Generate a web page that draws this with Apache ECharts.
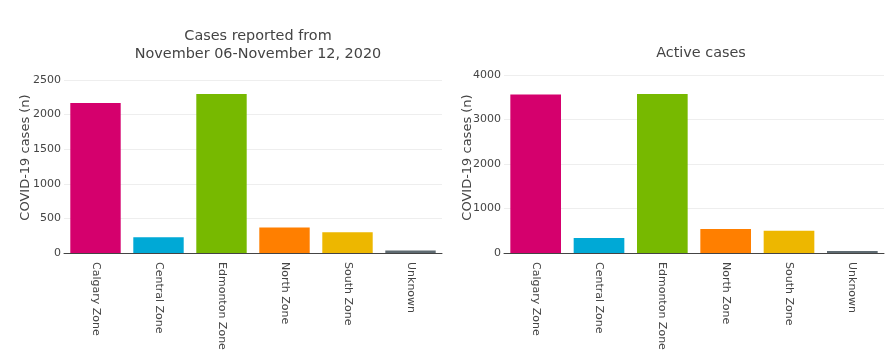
<!DOCTYPE html>
<html><head><meta charset="utf-8">
<script src="https://cdn.jsdelivr.net/npm/echarts@6/dist/echarts.min.js"></script>
<style>html,body{margin:0;padding:0;background:#fff}#c{width:896px;height:363px}</style>
</head><body><div id="c"></div>
<script>
const categories = ['Calgary Zone','Central Zone','Edmonton Zone','North Zone','South Zone','Unknown'];
const colors = ['#d5006d','#00a9d6','#77b900','#ff7f00','#edb700','#5e6a71'];
const weeklyCases = [2168, 227, 2298, 367, 299, 35];
const activeCases = [3560, 336, 3574, 538, 500, 45];
const leftTicks = {min:0, max:2500, interval:500};
const rightTicks = {min:0, max:4000, interval:1000};
const titles = ['Cases reported from\nNovember 06-November 12, 2020', 'Active cases'];
const yName = 'COVID-19 cases (n)';

const font = 'DejaVu Sans, Verdana, sans-serif';
const chart = echarts.init(document.getElementById('c'), null, {renderer:'canvas'});
function xAx(i){return {type:'category', gridIndex:i, data:categories,
  axisLine:{lineStyle:{color:'#444', width:1}}, axisTick:{show:false},
  axisLabel:{rotate:-90, color:'#444', fontFamily:font, fontSize:11, margin:9, interval:0}};}
function yAx(i,t){return {type:'value', gridIndex:i, min:t.min, max:t.max, interval:t.interval,
  axisLine:{show:false}, axisTick:{show:false},
  axisLabel:{color:'#444', fontFamily:font, fontSize:11, margin:3, formatter:v=>String(v)},
  splitLine:{lineStyle:{color:'#eee', width:1}}};}
function ser(i,vals){return {type:'bar', xAxisIndex:i, yAxisIndex:i, barCategoryGap:'20%',
  data: vals.map((v,k)=>({value:v, itemStyle:{color:colors[k]}})),
  silent:true, animation:false};}
function yTitle(x){return {type:'text', x:x, y:157.5, rotation:Math.PI/2,
  style:{text:yName, fill:'#444', font:'13px ' + font, textAlign:'center', textVerticalAlign:'middle'}};}
chart.setOption({
  animation:false,
  title:[
    {text:titles[0], left:253, top:22, textAlign:'center', textStyle:{color:'#444', fontFamily:font, fontSize:14.4, fontWeight:'normal', lineHeight:18}},
    {text:titles[1], left:696, top:41, textAlign:'center', textStyle:{color:'#444', fontFamily:font, fontSize:14.4, fontWeight:'normal'}}
  ],
  grid:[
    {left:64, right:454, top:80, bottom:110},
    {left:504, right:12, top:75, bottom:110}
  ],
  xAxis:[xAx(0), xAx(1)],
  yAxis:[yAx(0,leftTicks), yAx(1,rightTicks)],
  series:[ser(0,weeklyCases), ser(1,activeCases)],
  graphic:[yTitle(26), yTitle(467.5)]
});
</script></body></html>
